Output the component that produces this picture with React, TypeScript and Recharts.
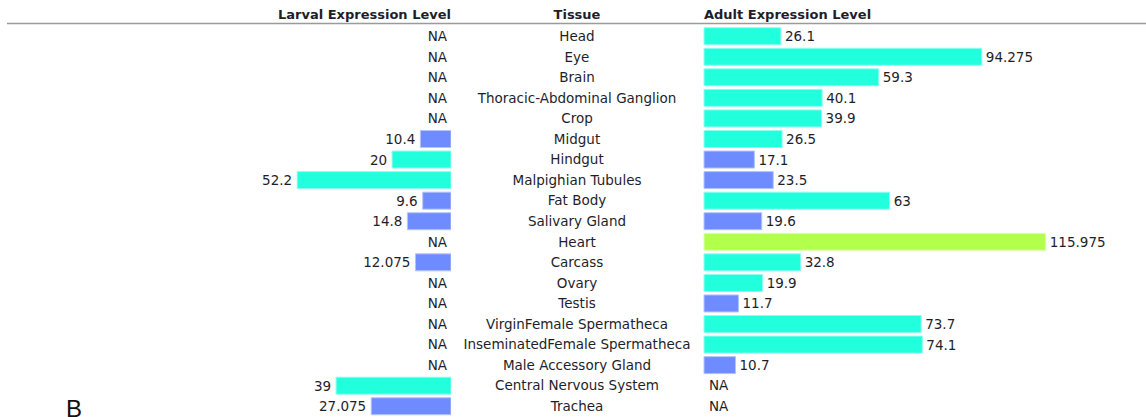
import { Bar, BarChart, Cell, LabelList, XAxis, YAxis } from "recharts";

const tissues = [
  "Head",
  "Eye",
  "Brain",
  "Thoracic-Abdominal Ganglion",
  "Crop",
  "Midgut",
  "Hindgut",
  "Malpighian Tubules",
  "Fat Body",
  "Salivary Gland",
  "Heart",
  "Carcass",
  "Ovary",
  "Testis",
  "VirginFemale Spermatheca",
  "InseminatedFemale Spermatheca",
  "Male Accessory Gland",
  "Central Nervous System",
  "Trachea",
];

const larvalValues = [null, null, null, null, null, 10.4, 20, 52.2, 9.6, 14.8, null, 12.075, null, null, null, null, null, 39, 27.075];
const larvalCalls = [null, null, null, null, null, "down", "up", "up", "down", "down", null, "down", null, null, null, null, null, "up", "down"];

const adultValues = [26.1, 94.275, 59.3, 40.1, 39.9, 26.5, 17.1, 23.5, 63, 19.6, 115.975, 32.8, 19.9, 11.7, 73.7, 74.1, 10.7, null, null];
const adultCalls = ["up", "up", "up", "up", "up", "up", "down", "down", "up", "down", "top", "up", "up", "down", "up", "up", "down", null, null];

const axisDomain = [0, 150];

const rows = tissues.map((tissue, i) => ({
  tissue,
  larval: larvalValues[i],
  larvalCall: larvalCalls[i],
  adult: adultValues[i],
  adultCall: adultCalls[i],
}));

const fills: Record<string, string> = { up: "#22ffdc", down: "#6e8cff", top: "#b2ff4c" };
const strokes: Record<string, string> = { up: "#8ffff0", down: "#b4c4ff", top: "#dcffb0" };

const textColor = "#1e1e2a";
const font = "'DejaVu Sans', sans-serif";
const rowFontSize = 13.5;
const margin = { top: 25.7, right: 0, bottom: 0.7, left: 0 };

function TissueTick(props: any) {
  const { x, y, payload } = props;
  const i = tissues.indexOf(payload.value);
  return (
    <g fontFamily={font} fontSize={rowFontSize} fill={textColor}>
      <text x={x - 127} y={y} textAnchor="middle" dominantBaseline="central">
        {payload.value}
      </text>
      {larvalValues[i] == null && (
        <text x={x - 257} y={y} textAnchor="end" dominantBaseline="central">
          NA
        </text>
      )}
      {adultValues[i] == null && (
        <text x={x + 5} y={y} textAnchor="start" dominantBaseline="central">
          NA
        </text>
      )}
    </g>
  );
}

function LarvalLabel(props: any) {
  const { x, y, width, height, value } = props;
  if (value == null) return null;
  const left = Math.min(Number(x), Number(x) + Number(width));
  return (
    <text x={left - 5} y={Number(y) + Number(height) / 2} textAnchor="end" dominantBaseline="central" fontFamily={font} fontSize={rowFontSize} fill={textColor}>
      {String(value)}
    </text>
  );
}

function AdultLabel(props: any) {
  const { x, y, width, height, value } = props;
  if (value == null) return null;
  const right = Math.max(Number(x), Number(x) + Number(width));
  return (
    <text x={right + 4} y={Number(y) + Number(height) / 2} textAnchor="start" dominantBaseline="central" fontFamily={font} fontSize={rowFontSize} fill={textColor}>
      {String(value)}
    </text>
  );
}

export default function App() {
  return (
    <div style={{ position: "absolute", left: 0, top: 0, width: 1146, height: 417, background: "#fff", overflow: "hidden" }}>
      {/* adult bars + tissue column */}
      <div style={{ position: "absolute", left: 0, top: 0 }}>
        <BarChart width={1146} height={417} data={rows} layout="vertical" margin={margin}>
          <XAxis type="number" domain={axisDomain} hide />
          <YAxis
            type="category"
            dataKey="tissue"
            width={704}
            axisLine={false}
            tickLine={false}
            tickSize={0}
            tickMargin={0}
            interval={0}
            tick={<TissueTick />}
          />
          <Bar dataKey="adult" barSize={17} isAnimationActive={false}>
            {rows.map((r, i) => (
              <Cell key={i} fill={fills[r.adultCall ?? "up"]} stroke={strokes[r.adultCall ?? "up"]} strokeWidth={1} />
            ))}
            <LabelList dataKey="adult" content={<AdultLabel />} />
          </Bar>
        </BarChart>
      </div>

      {/* larval bars, growing leftwards */}
      <div style={{ position: "absolute", left: 0, top: 0 }}>
        <BarChart width={451} height={417} data={rows} layout="vertical" margin={{ ...margin, left: 9 }}>
          <XAxis type="number" domain={axisDomain} reversed hide />
          <YAxis type="category" dataKey="tissue" hide />
          <Bar dataKey="larval" barSize={17} isAnimationActive={false}>
            {rows.map((r, i) => (
              <Cell key={i} fill={fills[r.larvalCall ?? "up"]} stroke={strokes[r.larvalCall ?? "up"]} strokeWidth={1} />
            ))}
            <LabelList dataKey="larval" content={<LarvalLabel />} />
          </Bar>
        </BarChart>
      </div>

      {/* column headers */}
      <svg width={1146} height={417} style={{ position: "absolute", left: 0, top: 0, pointerEvents: "none" }}>
        <g fontFamily={font} fontSize={13} fontWeight="bold" fill={textColor}>
          <text x={451} y={19} textAnchor="end">Larval Expression Level</text>
          <text x={577} y={19} textAnchor="middle">Tissue</text>
          <text x={704} y={19} textAnchor="start">Adult Expression Level</text>
        </g>
        <line x1={7} x2={1146} y1={23.5} y2={23.5} stroke="#9a9a9a" strokeWidth={1.5} />
        <text x={66} y={417} fontFamily="'Liberation Sans', sans-serif" fontSize={24} fill="#111">B</text>
      </svg>
    </div>
  );
}
